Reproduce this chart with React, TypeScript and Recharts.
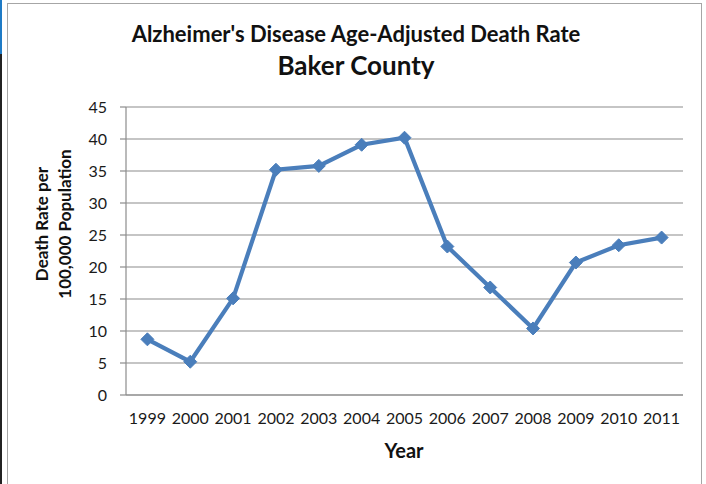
import React from 'react';
import { LineChart, Line, XAxis, YAxis, CartesianGrid } from 'recharts';

const years = ['1999', '2000', '2001', '2002', '2003', '2004', '2005', '2006', '2007', '2008', '2009', '2010', '2011'];
const rates = [8.7, 5.2, 15.1, 35.2, 35.8, 39.1, 40.2, 23.2, 16.8, 10.4, 20.7, 23.4, 24.6];
const yTicks = [0, 5, 10, 15, 20, 25, 30, 35, 40, 45];

const data = years.map((y, i) => ({ year: y, rate: rates[i] }));

const FONT = 'Lato, "Open Sans", sans-serif';
const LINE = '#4a7ebb';
const GRID = '#8c8c8c';

const Diamond = (props: any) => {
  const { cx, cy } = props;
  if (cx == null || cy == null) return null;
  const r = 6.5;
  return (
    <path
      d={`M${cx},${cy - r}L${cx + r},${cy}L${cx},${cy + r}L${cx - r},${cy}Z`}
      fill={LINE}
      stroke={LINE}
      strokeWidth={1}
    />
  );
};

export default function App() {
  return (
    <div style={{ position: 'absolute', left: 0, top: 0, width: 706, height: 484, background: '#fff', overflow: 'hidden', fontFamily: FONT }}>
      {/* left window strip */}
      <div style={{ position: 'absolute', left: 0, top: 0, width: 2, height: 54, background: '#1f7bc6' }} />
      <div style={{ position: 'absolute', left: 0, top: 54, width: 2, height: 430, background: '#222' }} />
      {/* chart border */}
      <div style={{ position: 'absolute', left: 7, top: 3, width: 695, height: 490, border: '1px solid #a6a6a6', boxSizing: 'border-box' }} />
      <div style={{ position: 'absolute', left: 0, top: 0 }}>
        <LineChart width={706} height={484} data={data} margin={{ top: 107, right: 23, left: 66, bottom: 59 }}>
          <CartesianGrid vertical={false} stroke={GRID} strokeWidth={1.2} />
          <XAxis
            dataKey="year"
            interval={0}
            tickLine={false}
            axisLine={{ stroke: GRID, strokeWidth: 1.2 }}
            padding={{ left: 21.4, right: 21.4 }}
            height={30}
            tickMargin={12}
            tick={{ fill: '#1a1a1a', fontSize: 16, fontFamily: FONT }}
          />
          <YAxis
            domain={[0, 45]}
            ticks={yTicks}
            interval={0}
            width={60}
            tickSize={6}
            tickMargin={13}
            axisLine={{ stroke: GRID, strokeWidth: 1.2 }}
            tickLine={{ stroke: GRID, strokeWidth: 1.2 }}
            tick={{ fill: '#1a1a1a', fontSize: 16, fontFamily: FONT }}
          />
          <Line
            type="linear"
            dataKey="rate"
            stroke={LINE}
            strokeWidth={4.2}
            dot={<Diamond />}
            activeDot={false}
            isAnimationActive={false}
          />
        </LineChart>
      </div>
      {/* titles */}
      <div style={{ position: 'absolute', left: 0, width: 712, top: 23, textAlign: 'center', fontWeight: 'bold', fontSize: 22, lineHeight: '22px', color: '#111', whiteSpace: 'nowrap' }}>
        Alzheimer's Disease Age-Adjusted Death Rate
      </div>
      <div style={{ position: 'absolute', left: 0, width: 712, top: 52, textAlign: 'center', fontWeight: 'bold', fontSize: 26, lineHeight: '26px', color: '#111', whiteSpace: 'nowrap' }}>
        Baker County
      </div>
      <div style={{ position: 'absolute', left: 0, width: 808, top: 440, textAlign: 'center', fontWeight: 'bold', fontSize: 20, lineHeight: '20px', color: '#111' }}>
        Year
      </div>
      {/* y axis title */}
      <div
        style={{
          position: 'absolute',
          left: 53 - 100,
          top: 224 - 23,
          width: 200,
          height: 46,
          transform: 'rotate(-90deg)',
          textAlign: 'center',
          fontWeight: 'bold',
          fontSize: 17,
          lineHeight: '23px',
          color: '#111',
          whiteSpace: 'nowrap',
        }}
      >
        Death Rate per
        <br />
        100,000 Population
      </div>
    </div>
  );
}
